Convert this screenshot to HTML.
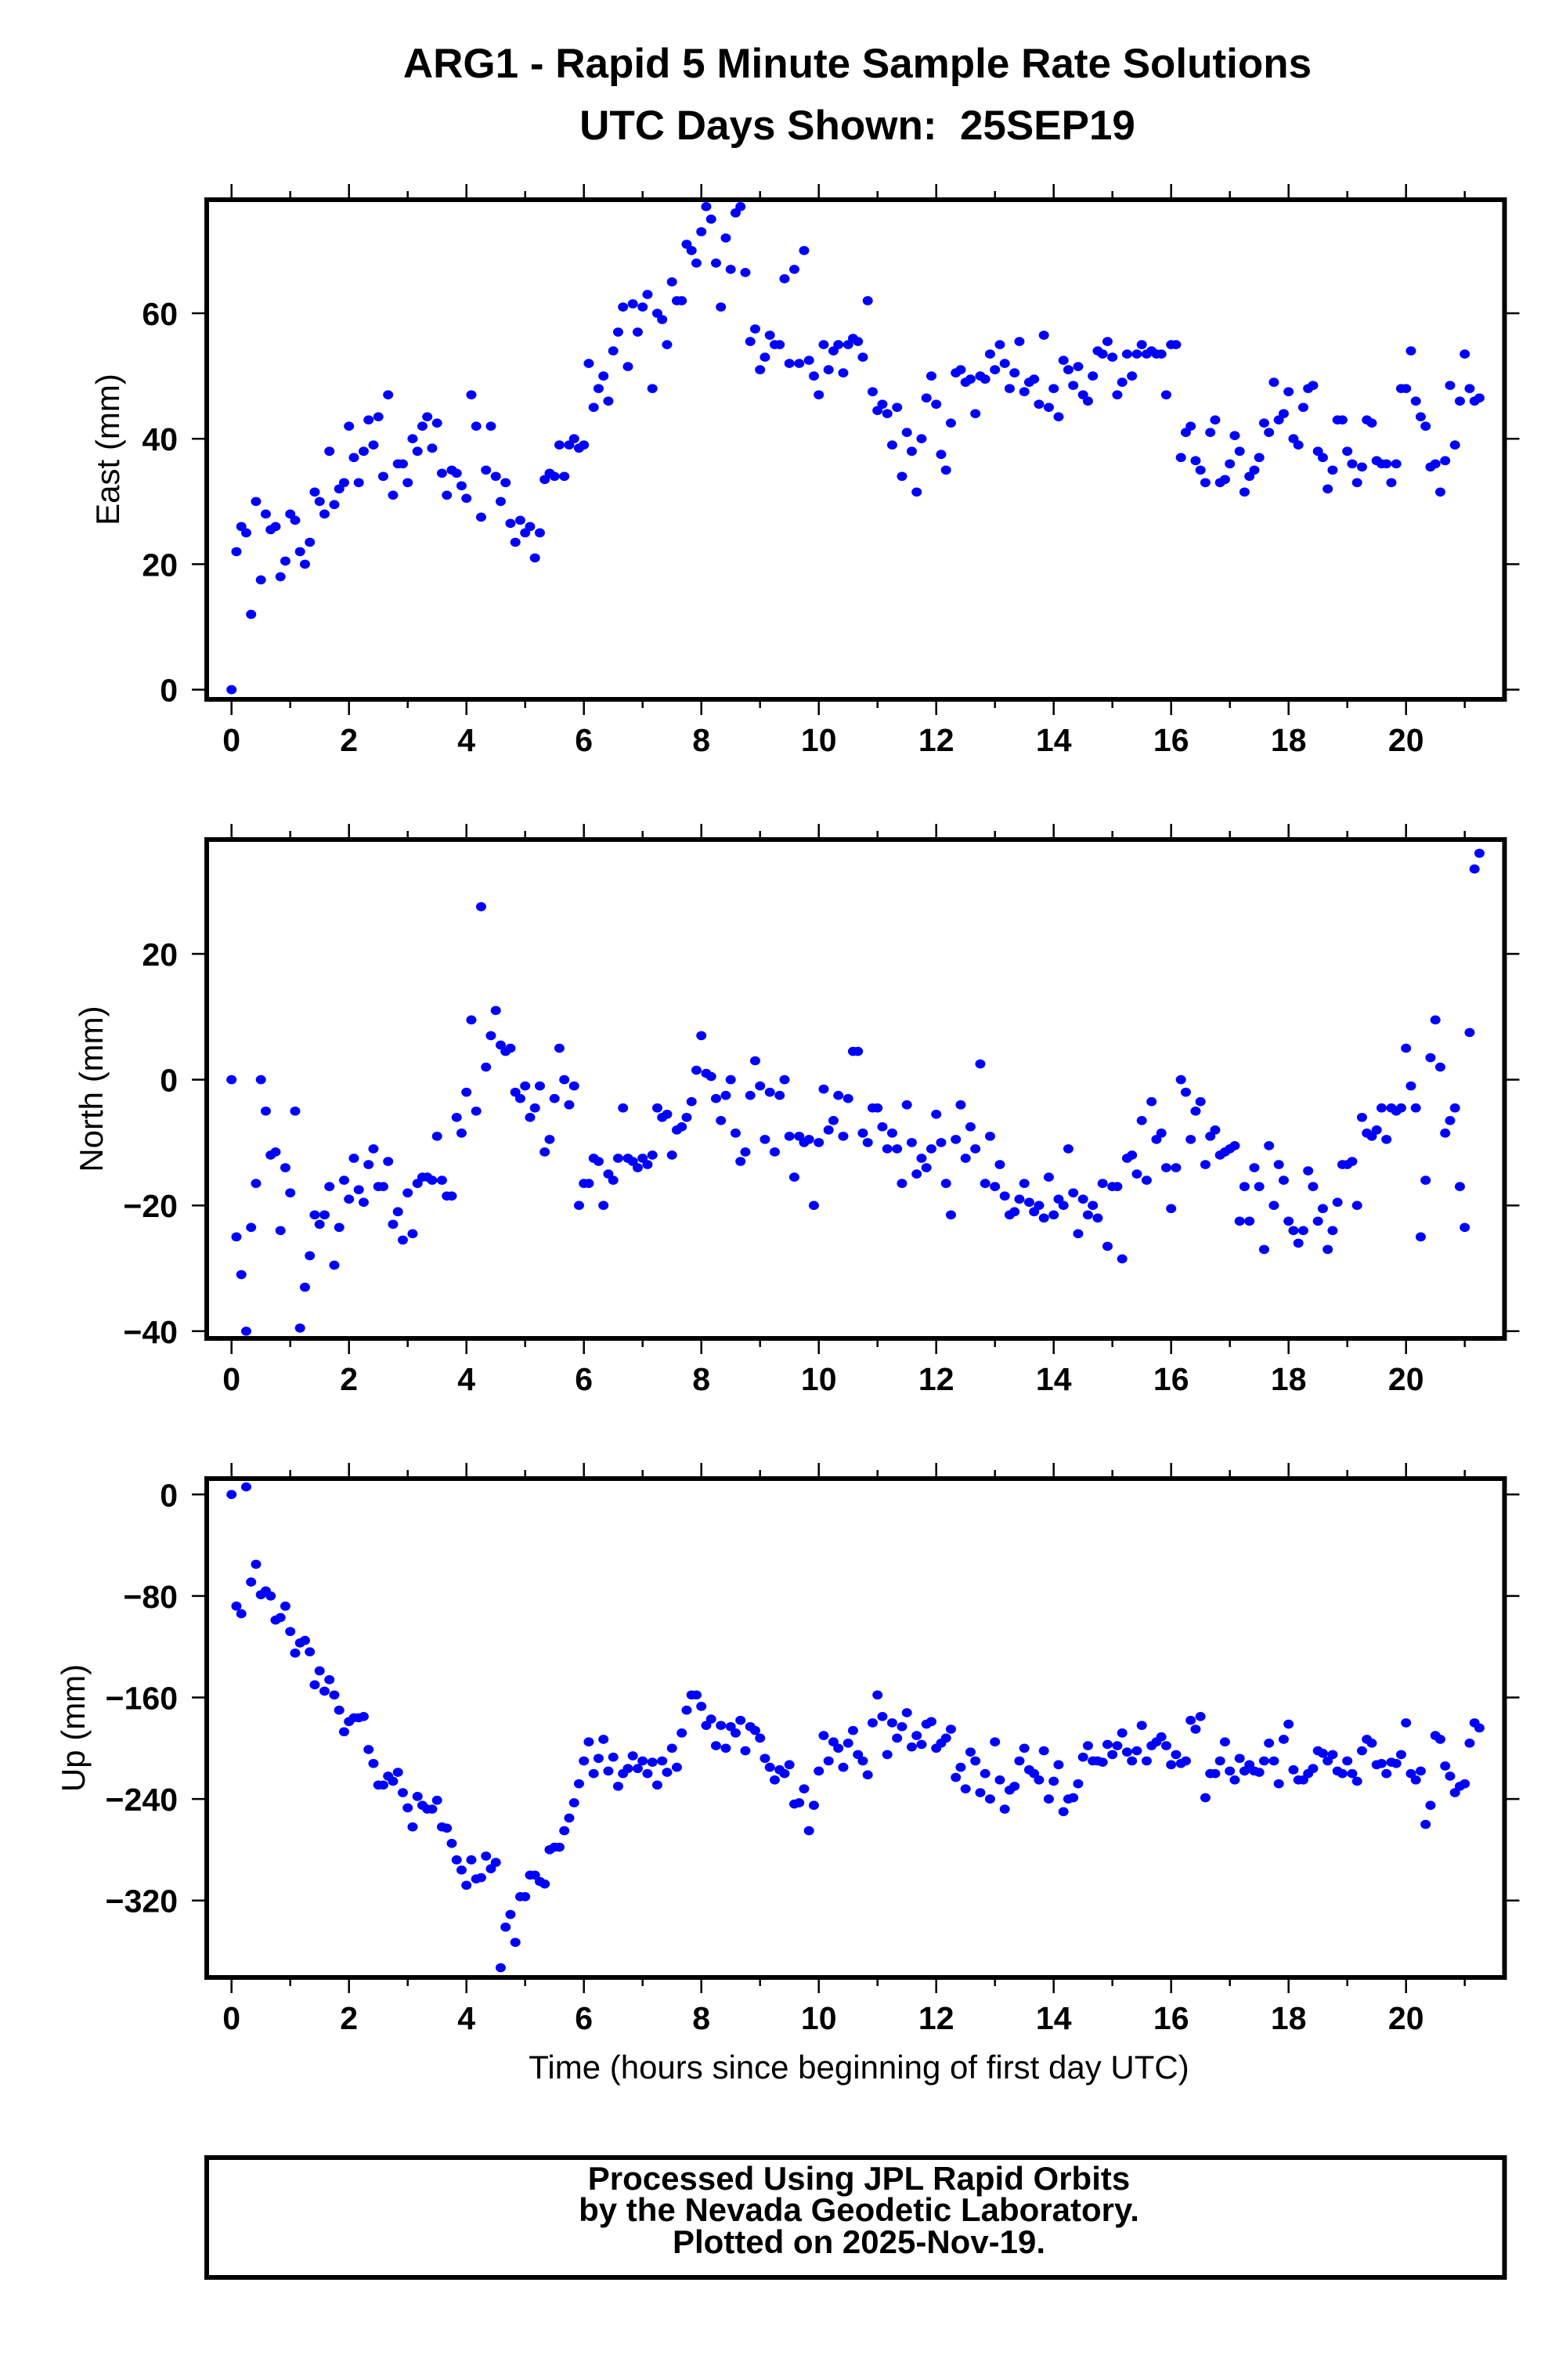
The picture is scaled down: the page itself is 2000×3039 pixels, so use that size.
<!DOCTYPE html>
<html><head><meta charset="utf-8"><title>ARG1 Rapid 5 Minute Solutions</title>
<style>html,body{margin:0;padding:0;background:#fff;}svg{display:block;}</style>
</head><body>
<svg id="chart" xmlns="http://www.w3.org/2000/svg" width="2000" height="3039" viewBox="0 0 2000 3039" font-family="Liberation Sans, Arial, sans-serif">
<text x="1095" y="99" font-size="53" font-weight="bold" text-anchor="middle">ARG1 - Rapid 5 Minute Sample Rate Solutions</text>
<text x="1095" y="178" font-size="53" font-weight="bold" text-anchor="middle" xml:space="preserve">UTC Days Shown:  25SEP19</text>
<text x="1097" y="2654" font-size="42" text-anchor="middle">Time (hours since beginning of first day UTC)</text>
<g>
<rect x="264" y="2755" width="1657.5" height="153" fill="none" stroke="#000" stroke-width="6"/>
<text x="1097" y="2796" font-size="42" font-weight="bold" text-anchor="middle">Processed Using JPL Rapid Orbits</text>
<text x="1097" y="2836" font-size="42" font-weight="bold" text-anchor="middle">by the Nevada Geodetic Laboratory.</text>
<text x="1097" y="2877" font-size="42" font-weight="bold" text-anchor="middle">Plotted on 2025-Nov-19.</text>
</g>
</svg>
<script>
const xTicks = [0,2,4,6,8,10,12,14,16,18,20];
const eastTicks = [0,20,40,60];
const northTicks = [-40,-20,0,20];
const upTicks = [-320,-240,-160,-80,0];
const eastValues = [
0,22,26,25,12,30,17.5,28,25.5,26,18,20.5,
28,27,22,20,23.5,31.5,30,28,38,29.5,32,33,
42,37,33,38,43,39,43.5,34,47,31,36,36,
33,40,38,42,43.5,38.5,42.5,34.5,31,35,34.5,32.5,
30.5,47,42,27.5,35,42,34,30,33,26.5,23.5,27,
25,26,21,25,33.5,34.5,34,39,34,39,40,38.5,
39,52,45,48,50,46,54,57,61,51.5,61.5,57,
61,63,48,60,59,55,65,62,62,71,70,68,
73,77,75,68,61,72,67,76,77,66.5,55.5,57.5,
51,53,56.5,55,55,65.5,52,67,52,70,52.5,50,
47,55,51,54,55,50.5,55,56,55.5,53,62,47.5,
44.5,45.5,44,39,45,34,41,38,31.5,40,46.5,50,
45.5,37.5,35,42.5,50.5,51,49,49.5,44,50,49.5,53.5,
51,55,52,48,50.5,55.5,47.5,49,49.5,45.5,56.5,45,
48,43.5,52.5,51,48.5,51.5,47,46,50,54,53.5,55.5,
53,47,49,53.5,50,53.5,55,53.5,54,53.5,53.5,47,
55,55,37,41,42,36.5,35,33,41,43,33,33.5,
36,40.5,38,31.5,34,35,37,42.5,41,49,43,44,
47.5,40,39,45,48,48.5,38,37,32,35,43,43,
38,36,33,35.5,43,42.5,36.5,36,36,33,36,48,
48,54,46,43.5,42,35.5,36,31.5,36.5,48.5,39,46,53.5,48,46,46.5];
const northValues = [
0,-25,-31,-40,-23.5,-16.5,0,-5,-12,-11.5,-24,-14,
-18,-5,-39.5,-33,-28,-21.5,-23,-21.5,-17,-29.5,-23.5,-16,
-19,-12.5,-17.5,-19.5,-13.5,-11,-17,-17,-13,-23,-21,-25.5,
-18,-24.5,-16.5,-15.5,-15.5,-16,-9,-16,-18.5,-18.5,-6,-8.5,
-2,9.5,-5,27.5,2,7,11,5.5,4.5,5,-2,-3,
-1,-6,-4.5,-1,-11.5,-9.5,-3,5,0,-4,-1,-20,
-16.5,-16.5,-12.5,-13,-20,-15,-16,-12.5,-4.5,-12.5,-13,-14,
-12.5,-13.5,-12,-4.5,-6,-5.5,-12,-8,-7.5,-6,-3.5,1.5,
7,1,0.5,-3,-6.5,-2.5,0,-8.5,-13,-11.5,-2.5,3,
-1,-9.5,-2,-11.5,-2.5,0,-9,-15.5,-9,-10,-9.5,-20,
-10,-1.5,-8,-6.5,-2.5,-9,-3,4.5,4.5,-8.5,-10,-4.5,
-4.5,-7.5,-11,-8.5,-11,-16.5,-4,-10,-15,-12.5,-14,-11,
-5.5,-10,-16.5,-21.5,-9.5,-4,-12.5,-7.5,-11,2.5,-16.5,-9,
-17,-13.5,-18.5,-21.5,-21,-19,-16.5,-19.5,-21,-20,-22,-15.5,
-21.5,-19,-20,-11,-18,-24.5,-19,-21.5,-20,-22,-16.5,-26.5,
-17,-17,-28.5,-12.5,-12,-15,-6.5,-16,-3.5,-9.5,-8.5,-14,
-20.5,-14,0,-2,-9.5,-5,-3.5,-13.5,-9,-8,-12,-11.5,
-11,-10.5,-22.5,-17,-22.5,-14,-17,-27,-10.5,-20,-13.5,-16,
-22.5,-24,-26,-24,-14.5,-17,-22.5,-20.5,-27,-24,-19.5,-13.5,
-13.5,-13,-20,-6,-8.5,-9,-8,-4.5,-9.5,-4.5,-5,-4.5,
5,-1,-4.5,-25,-16,3.5,9.5,2,-8.5,-6.5,-4.5,-17,-23.5,7.5,33.5,36];
const upValues = [
0,-88,-94,6,-69,-55,-79,-76,-80,-99,-97,-88,
-108,-125,-117,-115,-124,-150,-139,-155,-146,-158,-170,-187,
-179,-176,-176,-175,-201,-212,-229,-229,-222,-226,-219,-235,
-247,-262,-238,-245,-248,-248,-241,-262,-263,-275,-288,-296,
-308,-288,-303,-302,-285,-295,-290,-373,-341,-331,-353,-317,
-317,-300,-300,-305,-307,-280,-278,-278,-265,-255,-243,-228,
-210,-195,-220,-208,-193,-218,-207,-230,-220,-216,-206,-216,
-210,-220,-211,-229,-210,-219,-200,-215,-188,-170,-158,-158,
-167,-182,-177,-198,-182,-200,-183,-188,-178,-202,-183,-186,
-192,-208,-215,-225,-217,-220,-213,-244,-243,-232,-265,-245,
-218,-190,-210,-195,-200,-215,-196,-186,-205,-210,-221,-180,
-158,-175,-205,-180,-192,-183,-172,-199,-190,-197,-181,-179,
-200,-196,-192,-185,-223,-215,-232,-203,-210,-235,-220,-240,
-195,-225,-248,-233,-230,-210,-200,-217,-220,-225,-202,-240,
-226,-213,-250,-240,-239,-228,-207,-198,-210,-210,-211,-197,
-205,-198,-188,-203,-210,-202,-182,-210,-198,-195,-191,-198,
-213,-205,-212,-210,-178,-185,-175,-239,-220,-220,-210,-195,
-218,-225,-208,-218,-213,-218,-219,-210,-196,-210,-228,-193,
-181,-217,-225,-225,-220,-216,-202,-204,-210,-205,-218,-220,
-210,-220,-226,-202,-193,-196,-213,-212,-220,-211,-212,-205,
-180,-220,-225,-218,-260,-245,-190,-193,-214,-222,-235,-230,-228,-196,-180,-184];
const sampleHours = 5/60;

const NS = 'http://www.w3.org/2000/svg';
const svg = document.getElementById('chart');
function mk(tag, attrs, parent){const e=document.createElementNS(NS,tag);for(const k in attrs)e.setAttribute(k,attrs[k]);(parent||svg).appendChild(e);return e;}
const X0 = 295.7, XPH = 75, LEFT = 264, RIGHT = 1921.5;
function xScale(h){return X0 + h*XPH;}

function panel(name, top, bottom, y0px, pxPerUnit, ticks, values, label, labelX){
  const g = mk('g', {});
  
  
  const yScale = v => y0px - v*pxPerUnit;
  for (let h = 0; h <= 21; h++) {
    const x = xScale(h), major = (h % 2 === 0);
    const len = major ? 17 : 8;
    const t1 = mk('line', {x1:x, x2:x, y1:bottom, y2:bottom+3+len, stroke:'#000', 'stroke-width':2.5}, g);
    
    
    const t2 = mk('line', {x1:x, x2:x, y1:top, y2:top-3-len, stroke:'#000', 'stroke-width':2.5}, g);
    
    
  }
  xTicks.forEach(h => {
    const t = mk('text', {x:xScale(h), y:bottom+66, 'font-size':41, 'font-weight':'bold', 'text-anchor':'middle'}, g);
    
    
    t.textContent = h;
  });
  ticks.forEach(v => {
    const y = yScale(v);
    const a = mk('line', {x1:LEFT-19, x2:LEFT, y1:y, y2:y, stroke:'#000', 'stroke-width':2.5}, g);
    
    
    const b = mk('line', {x1:RIGHT, x2:RIGHT+19, y1:y, y2:y, stroke:'#000', 'stroke-width':2.5}, g);
    
    
    const t = mk('text', {x:227, y:y+15, 'font-size':41, 'font-weight':'bold', 'text-anchor':'end'}, g);
    
    
    t.textContent = (v < 0 ? '\u2212' + Math.abs(v) : v);
  });
  const cy = (top+bottom)/2;
  const yl = mk('text', {x:labelX, y:cy, 'font-size':42, 'text-anchor':'middle', transform:'rotate(-90 '+labelX+' '+cy+')', dy:'14'}, g);
  
  
  yl.textContent = label;
  const clipId = 'clip-' + name;
  const cp = mk('clipPath', {id:clipId}, g);
  mk('rect', {x:LEFT+3, y:top+3, width:RIGHT-LEFT-6, height:bottom-top-6}, cp);
  const pts = mk('g', {'clip-path':'url(#'+clipId+')'}, g);
  
  
  values.forEach((v, i) => {
    const c = mk('ellipse', {cx:xScale(i*sampleHours), cy:yScale(v), rx:6.5, ry:5.8, fill:'#0000ff'}, pts);
    
    
  });
  const r = mk('rect', {x:LEFT, y:top, width:RIGHT-LEFT, height:bottom-top, fill:'none', stroke:'#000', 'stroke-width':6}, g);
  
  
}
panel('east', 255, 893, 880.6, 8.01, eastTicks, eastValues, 'East (mm)', 138);
panel('north', 1072, 1709, 1378.6, 8.03, northTicks, northValues, 'North (mm)', 117);
panel('up', 1888, 2525, 1908.3, 1.62, upTicks, upValues, 'Up (mm)', 94);
</script>
</body></html>
